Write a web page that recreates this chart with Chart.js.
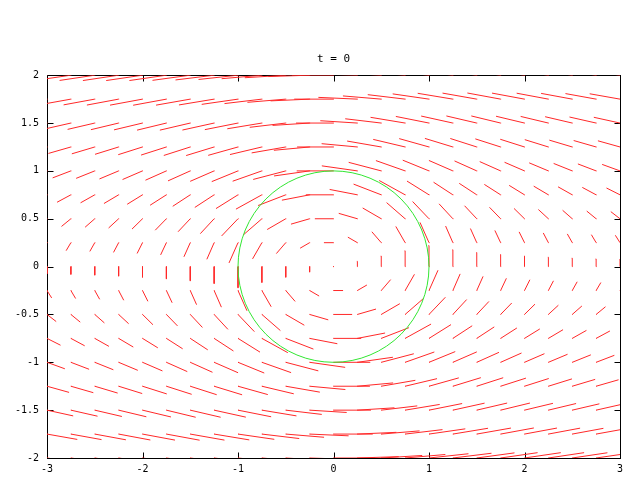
<!DOCTYPE html>
<html>
<head>
<meta charset="utf-8">
<script src="https://cdn.jsdelivr.net/npm/chart.js@4/dist/chart.umd.min.js"></script>
<style>html,body{margin:0;padding:0;background:#fff}</style>
</head>
<body>
<canvas id="c" width="640" height="480"></canvas>
<script>
// grid of arrow tails
const xs = [-3,-2.75,-2.5,-2.25,-2,-1.75,-1.5,-1.25,-1,-0.75,-0.5,-0.25,0,0.25,0.5,0.75,1,1.25,1.5,1.75,2,2.25,2.5,2.75,3]
const ys = [2,1.75,1.5,1.25,1,0.75,0.5,0.25,0,-0.25,-0.5,-0.75,-1,-1.25,-1.5,-1.75,-2]

// x component of each vector, one row per y (top to bottom)
const dxRows = [
[-.354,-.358,-.363,-.369,-.375,-.382,-.390,-.399,-.408,-.416,-.424,-.428,-.430,-.428,-.424,-.416,-.408,-.399,-.390,-.382,-.375,-.369,-.363,-.358,-.354],
[-.312,-.316,-.321,-.327,-.335,-.343,-.353,-.363,-.375,-.386,-.396,-.403,-.406,-.403,-.396,-.386,-.375,-.363,-.353,-.343,-.335,-.327,-.321,-.316,-.312],
[-.269,-.274,-.279,-.285,-.293,-.302,-.313,-.327,-.342,-.357,-.372,-.383,-.387,-.383,-.372,-.357,-.342,-.327,-.313,-.302,-.293,-.285,-.279,-.274,-.269],
[-.226,-.230,-.235,-.242,-.249,-.260,-.272,-.288,-.307,-.329,-.352,-.369,-.376,-.369,-.352,-.329,-.307,-.288,-.272,-.260,-.249,-.242,-.235,-.230,-.226],
[-.182,-.186,-.190,-.196,-.204,-.214,-.228,-.246,-.270,-.301,-.336,-.367,-.380,-.367,-.336,-.301,-.270,-.246,-.228,-.214,-.204,-.196,-.190,-.186,-.182],
[-.137,-.140,-.144,-.149,-.156,-.166,-.179,-.198,-.226,-.267,-.285,-.285,-.285,-.285,-.285,-.267,-.226,-.198,-.179,-.166,-.156,-.149,-.144,-.140,-.137],
[-.092,-.094,-.097,-.101,-.106,-.113,-.124,-.141,-.168,-.190,-.190,-.190,-.190,-.190,-.190,-.190,-.168,-.141,-.124,-.113,-.106,-.101,-.097,-.094,-.092],
[-.046,-.047,-.049,-.051,-.054,-.058,-.064,-.074,-.092,-.095,-.095,-.095,-.095,-.095,-.095,-.095,-.092,-.074,-.064,-.058,-.054,-.051,-.049,-.047,-.046],
[0,0,0,0,0,0,0,0,0,0,0,0,0,0,0,0,0,0,0,0,0,0,0,0,0],
[.046,.047,.049,.051,.054,.058,.064,.074,.092,.095,.095,.095,.095,.095,.095,.095,.092,.074,.064,.058,.054,.051,.049,.047,.046],
[.092,.094,.097,.101,.106,.113,.124,.141,.168,.190,.190,.190,.190,.190,.190,.190,.168,.141,.124,.113,.106,.101,.097,.094,.092],
[.137,.140,.144,.149,.156,.166,.179,.198,.226,.267,.285,.285,.285,.285,.285,.267,.226,.198,.179,.166,.156,.149,.144,.140,.137],
[.182,.186,.190,.196,.204,.214,.228,.246,.270,.301,.336,.367,.380,.367,.336,.301,.270,.246,.228,.214,.204,.196,.190,.186,.182],
[.226,.230,.235,.242,.249,.260,.272,.288,.307,.329,.352,.369,.376,.369,.352,.329,.307,.288,.272,.260,.249,.242,.235,.230,.226],
[.269,.274,.279,.285,.293,.302,.313,.327,.342,.357,.372,.383,.387,.383,.372,.357,.342,.327,.313,.302,.293,.285,.279,.274,.269],
[.312,.316,.321,.327,.335,.343,.353,.363,.375,.386,.396,.403,.406,.403,.396,.386,.375,.363,.353,.343,.335,.327,.321,.316,.312],
[.354,.358,.363,.369,.375,.382,.390,.399,.408,.416,.424,.428,.430,.428,.424,.416,.408,.399,.390,.382,.375,.369,.363,.358,.354]
]

// y component of each vector
const dyRows = [
[-.051,-.052,-.054,-.055,-.055,-.055,-.053,-.049,-.044,-.036,-.026,-.014,0,.014,.026,.036,.044,.049,.053,.055,.055,.055,.054,.052,.051],
[-.055,-.057,-.059,-.061,-.062,-.063,-.062,-.060,-.054,-.046,-.033,-.018,0,.018,.033,.046,.054,.060,.062,.063,.062,.061,.059,.057,.055],
[-.059,-.062,-.065,-.068,-.070,-.073,-.073,-.072,-.068,-.059,-.044,-.024,0,.024,.044,.059,.068,.072,.073,.073,.070,.068,.065,.062,.059],
[-.063,-.066,-.070,-.075,-.079,-.083,-.087,-.088,-.086,-.078,-.061,-.034,0,.034,.061,.078,.086,.088,.087,.083,.079,.075,.070,.066,.063],
[-.066,-.071,-.076,-.082,-.088,-.095,-.102,-.107,-.110,-.106,-.088,-.052,0,.052,.088,.106,.110,.107,.102,.095,.088,.082,.076,.071,.066],
[-.069,-.075,-.081,-.088,-.096,-.106,-.117,-.129,-.141,-.147,-.110,-.055,0,.055,.110,.147,.141,.129,.117,.106,.096,.088,.081,.075,.069],
[-.071,-.077,-.085,-.093,-.104,-.116,-.132,-.152,-.176,-.165,-.110,-.055,0,.055,.110,.165,.176,.152,.132,.116,.104,.093,.085,.077,.071],
[-.073,-.079,-.087,-.097,-.108,-.123,-.143,-.169,-.207,-.165,-.110,-.055,0,.055,.110,.165,.207,.169,.143,.123,.108,.097,.087,.079,.073],
[-.073,-.080,-.088,-.098,-.110,-.126,-.147,-.176,-.220,-.165,-.110,-.055,0,.055,.110,.165,.220,.176,.147,.126,.110,.098,.088,.080,.073],
[-.073,-.079,-.087,-.097,-.108,-.123,-.143,-.169,-.207,-.165,-.110,-.055,0,.055,.110,.165,.207,.169,.143,.123,.108,.097,.087,.079,.073],
[-.071,-.077,-.085,-.093,-.104,-.116,-.132,-.152,-.176,-.165,-.110,-.055,0,.055,.110,.165,.176,.152,.132,.116,.104,.093,.085,.077,.071],
[-.069,-.075,-.081,-.088,-.096,-.106,-.117,-.129,-.141,-.147,-.110,-.055,0,.055,.110,.147,.141,.129,.117,.106,.096,.088,.081,.075,.069],
[-.066,-.071,-.076,-.082,-.088,-.095,-.102,-.107,-.110,-.106,-.088,-.052,0,.052,.088,.106,.110,.107,.102,.095,.088,.082,.076,.071,.066],
[-.063,-.066,-.070,-.075,-.079,-.083,-.087,-.088,-.086,-.078,-.061,-.034,0,.034,.061,.078,.086,.088,.087,.083,.079,.075,.070,.066,.063],
[-.059,-.062,-.065,-.068,-.070,-.073,-.073,-.072,-.068,-.059,-.044,-.024,0,.024,.044,.059,.068,.072,.073,.073,.070,.068,.065,.062,.059],
[-.055,-.057,-.059,-.061,-.062,-.063,-.062,-.060,-.054,-.046,-.033,-.018,0,.018,.033,.046,.054,.060,.062,.063,.062,.061,.059,.057,.055],
[-.051,-.052,-.054,-.055,-.055,-.055,-.053,-.049,-.044,-.036,-.026,-.014,0,.014,.026,.036,.044,.049,.053,.055,.055,.055,.054,.052,.051]
]

// green circle (vortex boundary)
const circleCenter = [0, 0]
const circleRadius = 1

const xTicks = [-3,-2,-1,0,1,2,3]
const xTickLabels = ['-3','-2','-1','0','1','2','3']
const yTicks = [-2,-1.5,-1,-0.5,0,0.5,1,1.5,2]
const yTickLabels = ['-2','-1.5','-1','-0.5','0','0.5','1','1.5','2']

const titleText = 't = 0'
const FONT = 'DejaVu Sans Mono'

// segments, broken by NaN points
let segs = []
ys.forEach((y, j) => {
  xs.forEach((x, i) => {
    segs.push({x: x, y: y})
    segs.push({x: x + dxRows[j][i], y: y + dyRows[j][i]})
    segs.push({x: NaN, y: NaN})
  })
})

// border box + inward ticks like gnuplot
const framePlugin = {
  id: 'frame',
  beforeDatasetsDraw(chart){
    const {ctx, chartArea: a, scales} = chart
    const L = Math.round(a.left) + 0.5, R = Math.round(a.right) + 0.5
    const T = Math.round(a.top) + 0.5, B = Math.round(a.bottom) + 0.5
    ctx.save()
    ctx.strokeStyle = '#000'
    ctx.lineWidth = 1
    ctx.strokeRect(L, T, R - L, B - T)
    ctx.beginPath()
    xTicks.forEach(v => {
      const px = Math.round(scales.x.getPixelForValue(v)) + 0.5
      ctx.moveTo(px, B); ctx.lineTo(px, B - 6)
      ctx.moveTo(px, T); ctx.lineTo(px, T + 6)
    })
    yTicks.forEach(v => {
      const py = Math.round(scales.y.getPixelForValue(v)) + 0.5
      ctx.moveTo(L, py); ctx.lineTo(L + 6, py)
      ctx.moveTo(R, py); ctx.lineTo(R - 6, py)
    })
    ctx.stroke()
    ctx.restore()
  }
}

const circlePlugin = {
  id: 'circle',
  afterDatasetsDraw(chart){
    const {ctx, scales} = chart
    const cx = scales.x.getPixelForValue(circleCenter[0])
    const cy = scales.y.getPixelForValue(circleCenter[1])
    const rx = Math.abs(scales.x.getPixelForValue(circleCenter[0] + circleRadius) - cx)
    const ry = Math.abs(scales.y.getPixelForValue(circleCenter[1] + circleRadius) - cy)
    ctx.save()
    ctx.strokeStyle = 'rgb(50,230,50)'
    ctx.lineWidth = 1
    ctx.beginPath()
    ctx.ellipse(cx, cy, rx, ry, 0, 0, Math.PI * 2)
    ctx.stroke()
    ctx.restore()
  }
}

new Chart(document.getElementById('c'), {
  type: 'scatter',
  data: {datasets: [{
    data: segs,
    showLine: true,
    spanGaps: false,
    borderColor: 'rgb(255,40,40)',
    borderWidth: 1,
    borderCapStyle: 'square',
    pointRadius: 0,
    pointHoverRadius: 0
  }]},
  options: {
    responsive: false,
    devicePixelRatio: 1,
    animation: false,
    layout: {padding: {left: 0, right: 20, top: 0, bottom: 0}},
    plugins: {
      legend: {display: false},
      tooltip: {enabled: false},
      title: {
        display: true,
        text: titleText,
        fullSize: false,
        color: '#000',
        font: {family: FONT, size: 11, weight: 'normal'},
        padding: {top: 53, bottom: 9}
      }
    },
    scales: {
      x: {
        type: 'linear', min: -3, max: 3,
        grid: {display: false}, border: {display: false},
        afterFit: s => { s.height = 22 },
        afterBuildTicks: s => { s.ticks = xTicks.map(v => ({value: v})) },
        ticks: {color: '#000', font: {family: FONT, size: 10}, padding: -3, maxRotation: 0,
          callback: (v, i) => xTickLabels[i]}
      },
      y: {
        type: 'linear', min: -2, max: 2,
        grid: {display: false}, border: {display: false},
        afterFit: s => { s.width = 47 },
        afterBuildTicks: s => { s.ticks = yTicks.map(v => ({value: v})) },
        ticks: {color: '#000', font: {family: FONT, size: 10}, padding: 0,
          callback: (v, i) => yTickLabels[i]}
      }
    }
  },
  plugins: [framePlugin, circlePlugin]
})
</script>
</body>
</html>
